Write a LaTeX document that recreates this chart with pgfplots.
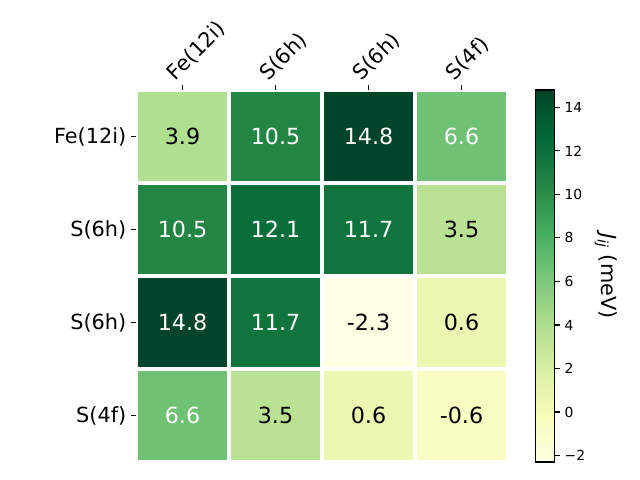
\documentclass[border=0pt]{standalone}
\usepackage{pgfplots}
\pgfplotsset{compat=1.18}
\usepackage{fontspec}
\setmainfont{DejaVu Sans}
\begin{document}
\begin{tikzpicture}
\useasboundingbox (-97.92pt,-12.96pt) rectangle (362.88pt,332.64pt);
\begin{axis}[
  at={(0,0)}, anchor=south west,
  scale only axis, width=267.84pt, height=267.84pt,
  xmin=-0.5, xmax=3.5, ymin=-0.5, ymax=3.5,
  y dir=reverse,
  axis line style={draw=none},
  xtick={0,1,2,3}, ytick={0,1,2,3},
  xticklabels={Fe(12i),S(6h),S(6h),S(4f)},
  yticklabels={Fe(12i),S(6h),S(6h),S(4f)},
  xtick pos=right, xticklabel pos=right,
  ytick pos=left, yticklabel pos=left,
  tick align=outside,
  major tick length=3.5pt,
  tick style={black, line width=0.8pt},
  x tick label style={rotate=45, anchor=south west, font=\fontsize{15}{18}\selectfont, xshift=-5pt, yshift=0pt},
  y tick label style={font=\fontsize{15}{18}\selectfont},
  colormap={YlGn}{rgb255=(255,255,229) rgb255=(247,252,185) rgb255=(217,240,163) rgb255=(173,221,142) rgb255=(120,198,121) rgb255=(65,171,93) rgb255=(35,132,67) rgb255=(0,104,55) rgb255=(0,69,41)},
  point meta min=-2.3, point meta max=14.8,
  colorbar right,
  colorbar style={
    at={(parent axis.north east)}, anchor=north west, xshift=11.52pt,
    width=13.68pt,
    axis line style={draw=black, line width=0.8pt},
    ytick={-2,0,2,4,6,8,10,12,14},
    yticklabels={−2,0,2,4,6,8,10,12,14},
    yticklabel pos=right, ytick pos=right,
    tick align=outside, major tick length=3.5pt,
    tick style={black, line width=0.8pt},
    y tick label style={font=\fontsize{10}{12}\selectfont},
    ylabel={{\itshape J}\textsubscript{\itshape ij} (meV)},
    ylabel style={rotate=180, font=\fontsize{15}{18}\selectfont},
  },
]
\addplot[matrix plot*, mesh/cols=4, point meta=explicit, draw=white, line width=3pt] table[meta=v] {
x y v
0 0 3.9
1 0 10.5
2 0 14.8
3 0 6.6
0 1 10.5
1 1 12.1
2 1 11.7
3 1 3.5
0 2 14.8
1 2 11.7
2 2 -2.3
3 2 0.6
0 3 6.6
1 3 3.5
2 3 0.6
3 3 -0.6
};
\addplot[draw=none, mark=none, nodes near coords, point meta=explicit symbolic,
  nodes near coords style={anchor=center, text=white, font=\fontsize{16}{19}\selectfont}] table[meta=l] {
x y l
1 0 10.5
2 0 14.8
3 0 6.6
0 1 10.5
1 1 12.1
2 1 11.7
0 2 14.8
1 2 11.7
0 3 6.6
};
\addplot[draw=none, mark=none, nodes near coords, point meta=explicit symbolic,
  nodes near coords style={anchor=center, text=black, font=\fontsize{16}{19}\selectfont}] table[meta=l] {
x y l
0 0 3.9
3 1 3.5
2 2 -2.3
3 2 0.6
1 3 3.5
2 3 0.6
3 3 -0.6
};
\end{axis}
\end{tikzpicture}
\end{document}
